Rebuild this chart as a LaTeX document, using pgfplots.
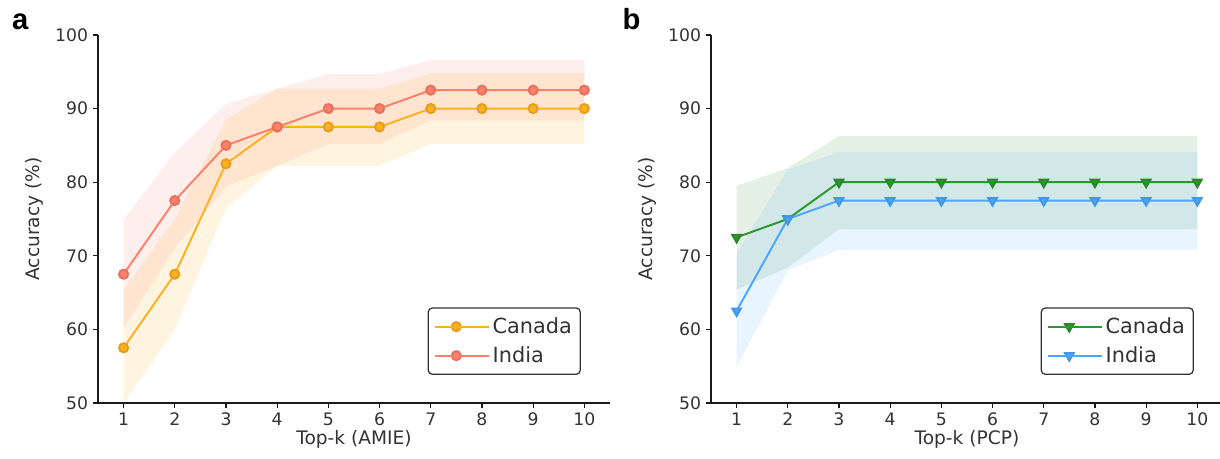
\documentclass[border=0pt]{standalone}
\usepackage{pgfplots}
\pgfplotsset{compat=1.18}
\usepgfplotslibrary{fillbetween}
\usepackage{fontspec}
\setmainfont{DejaVu Sans}
\newfontfamily\panelfont{Liberation Sans}
\definecolor{cA}{HTML}{FFB020}
\definecolor{iA}{HTML}{FF7F6A}
\definecolor{cAf}{HTML}{FFA500}
\definecolor{iAf}{HTML}{FF6347}
\definecolor{cB}{HTML}{2E962E}
\definecolor{iB}{HTML}{4AA6FF}
\definecolor{cBf}{HTML}{2E8B2E}
\definecolor{iBf}{HTML}{1E90FF}
\definecolor{spine}{HTML}{1A1A1A}
\definecolor{txt}{HTML}{333333}

\pgfplotsset{
  mystyle/.style={
    scale only axis, width=368.6pt, height=265pt,
    xmin=0.5, xmax=10.5, ymin=50, ymax=100,
    axis lines*=left,
    axis line style={line width=1pt, color=spine},
    xtick={1,...,10}, ytick={50,60,...,100},
    tick align=outside, tick pos=left, major tick length=3.6pt,
    every tick/.style={line width=0.9pt, spine},
    tick label style={font=\fontsize{12.4}{14}\selectfont, text=txt},
    /pgf/number format/assume math mode=true,
    label style={font=\fontsize{13.4}{15}\selectfont, text=txt},
    ylabel={Accuracy (\%)},
    ylabel style={at={(axis description cs:-0.125,0.5)}, anchor=center},
    xlabel style={at={(axis description cs:0.5,-0.1)}, anchor=center},
    legend style={at={(1,0)}, anchor=south east, xshift=-20.9pt, yshift=20.2pt,
      draw=txt, line width=0.9pt, rounded corners=3pt,
      font=\fontsize{15}{18}\selectfont, text=txt,
      inner xsep=4pt, inner ysep=5pt, row sep=4pt},
    legend cell align=left,
    legend image code/.code={\draw[mark repeat=2,mark phase=2,##1] plot coordinates {(0pt,0pt) (15.5pt,0pt) (31pt,0pt)};
      \path (0pt,0pt) -- (39pt,0pt);},
  },
  band/.style={draw=none, forget plot},
}

\begin{document}
\begin{tikzpicture}

\begin{axis}[mystyle, at={(70.56pt,39.6pt)}, anchor=south west, xlabel={Top-k (AMIE)}]
  % Canada band
  \addplot[band, name path=cau] coordinates {(1,65.4) (2,75) (3,88.5) (4,92.7) (5,92.7) (6,92.7) (7,94.8) (8,94.8) (9,94.8) (10,94.8)};
  \addplot[band, name path=cal] coordinates {(1,50) (2,60) (3,76.5) (4,82.2) (5,82.2) (6,82.2) (7,85.2) (8,85.2) (9,85.2) (10,85.2)};
  \addplot[cAf, fill opacity=0.12, forget plot] fill between[of=cau and cal];
  % India band
  \addplot[band, name path=iau] coordinates {(1,74.9) (2,84) (3,90.6) (4,92.7) (5,94.7) (6,94.7) (7,96.6) (8,96.6) (9,96.6) (10,96.6)};
  \addplot[band, name path=ial] coordinates {(1,60.1) (2,71) (3,79.4) (4,82.2) (5,85.2) (6,85.2) (7,88.4) (8,88.4) (9,88.4) (10,88.4)};
  \addplot[iAf, fill opacity=0.10, forget plot] fill between[of=iau and ial];
  % lines
  \addplot[cA, line width=1.4pt, mark=*, mark size=3.3pt, mark options={fill=cA, draw=cA!90!black}] coordinates {(1,57.5) (2,67.5) (3,82.5) (4,87.5) (5,87.5) (6,87.5) (7,90) (8,90) (9,90) (10,90)};
  \addlegendentry{Canada}
  \addplot[iA, line width=1.4pt, mark=*, mark size=3.3pt, mark options={fill=iA, draw=iA!90!black}] coordinates {(1,67.5) (2,77.5) (3,85) (4,87.5) (5,90) (6,90) (7,92.5) (8,92.5) (9,92.5) (10,92.5)};
  \addlegendentry{India}
\end{axis}

\begin{axis}[mystyle, at={(511.9pt,39.6pt)}, anchor=south west, xlabel={Top-k (PCP)}]
  \addplot[band, name path=cbu] coordinates {(1,79.5) (2,81.9) (3,86.3) (4,86.3) (5,86.3) (6,86.3) (7,86.3) (8,86.3) (9,86.3) (10,86.3)};
  \addplot[band, name path=cbl] coordinates {(1,65.4) (2,68.4) (3,73.6) (4,73.6) (5,73.6) (6,73.6) (7,73.6) (8,73.6) (9,73.6) (10,73.6)};
  \addplot[cBf, fill opacity=0.12, forget plot] fill between[of=cbu and cbl];
  \addplot[band, name path=ibu] coordinates {(1,70.3) (2,81.7) (3,84.1) (4,84.1) (5,84.1) (6,84.1) (7,84.1) (8,84.1) (9,84.1) (10,84.1)};
  \addplot[band, name path=ibl] coordinates {(1,54.9) (2,68.0) (3,70.8) (4,70.8) (5,70.8) (6,70.8) (7,70.8) (8,70.8) (9,70.8) (10,70.8)};
  \addplot[iBf, fill opacity=0.10, forget plot] fill between[of=ibu and ibl];
  \addplot[cB, line width=1.4pt, mark=triangle*, mark size=3.6pt, mark options={rotate=180, fill=cB, draw=cB!90!black}] coordinates {(1,72.5) (2,75) (3,80) (4,80) (5,80) (6,80) (7,80) (8,80) (9,80) (10,80)};
  \addlegendentry{Canada}
  \addplot[iB, line width=1.4pt, mark=triangle*, mark size=3.6pt, mark options={rotate=180, fill=iB, draw=iB!90!black}] coordinates {(1,62.5) (2,75) (3,77.5) (4,77.5) (5,77.5) (6,77.5) (7,77.5) (8,77.5) (9,77.5) (10,77.5)};
  \addlegendentry{India}
\end{axis}

\node[anchor=base west, inner sep=0pt, font=\panelfont\bfseries\fontsize{21}{24}\selectfont] at (8.6pt,308.2pt) {a};
\node[anchor=base west, inner sep=0pt, font=\panelfont\bfseries\fontsize{21}{24}\selectfont] at (448pt,308.2pt) {b};
\pgfresetboundingbox
\useasboundingbox (0,0) rectangle (878.4pt,329.76pt);
\end{tikzpicture}
\end{document}
